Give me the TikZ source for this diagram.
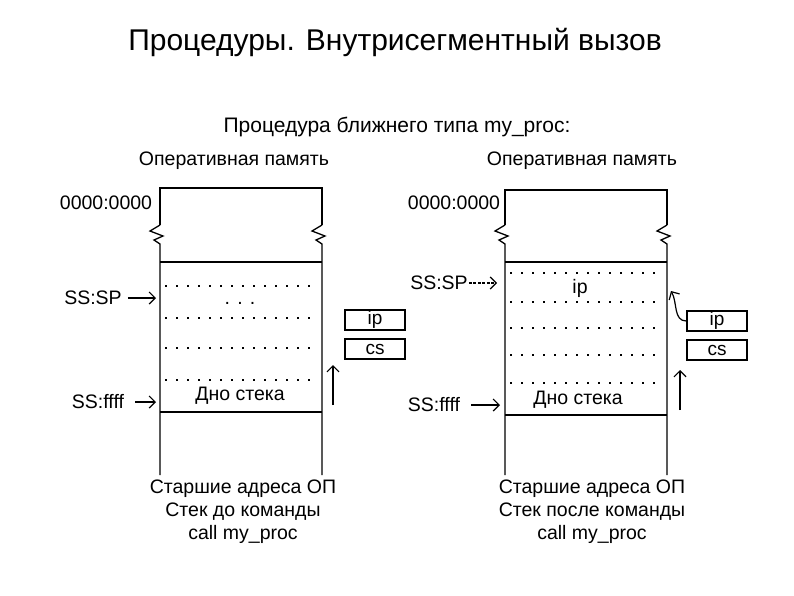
\documentclass[tikz,border=0pt]{standalone}
\usepackage{fontspec}
\setmainfont{Liberation Sans}
\usetikzlibrary{arrows.meta}
\begin{document}
\begin{tikzpicture}[x=1pt,y=-1pt,
  lbl/.style={font=\fontsize{19.5}{23}\selectfont,inner sep=1pt},
  col/.style={line width=1.3pt},
  dots/.style={line width=2pt,dash pattern=on 2pt off 9pt},
  reg/.style={draw,line width=1.3pt,minimum width=60pt,minimum height=20pt,inner sep=0pt,font=\fontsize{19}{19}\selectfont},
  arr/.style={-{Straight Barb[length=6pt]},line width=1.2pt}]
\useasboundingbox (0,0) rectangle (794,595);
\node[font=\fontsize{30}{34}\selectfont] (title) at (395,42) {Процедуры. Внутрисегментный вызов};
\node[font=\fontsize{21}{24}\selectfont] (sub) at (397,127) {Процедура ближнего типа my\_proc:};
% left
\node[lbl] (lmem) at (234,161) {Оперативная память};
\draw[col] (160,225) -- (160,188) -- (322,188) -- (322,225);
\draw[col] (160,225) -- (150,231) -- (163,236) -- (154,240) -- (160,244) -- (160,475);
\draw[col] (322,225) -- (312,231) -- (325,236) -- (316,240) -- (322,244) -- (322,475);
\draw[col] (160,262) -- (322,262);
\draw[col] (160,412) -- (322,412);
\foreach \y in {286,318,348,380} \draw[dots] (165,\y) -- (318,\y);
\node[lbl] (ldots) at (240,303) {. . .};
\node[lbl] (l0) at (106,203) {0000:0000};
\node[lbl] (lsp) at (93,298) {SS:SP};
\coordinate (lspe) at (156,298);
\draw[arr] ([xshift=5pt]lsp.east) -- (lspe);
\node[lbl] (lff) at (98,402) {SS:ffff};
\coordinate (lffe) at (156,402);
\draw[arr] ([xshift=10pt]lff.east) -- (lffe);
\node[lbl] (ldno) at (240,396) {Дно стека};
\node[reg] (lip) at (375,320) {ip};
\node[reg] (lcs) at (375,349) {cs};
\coordinate (lu1) at (333,405); \coordinate (lu2) at (333,365);
\draw[arr] (lu1) -- (lu2);
\node[lbl,align=center] (lbot) at (243,512) {Старшие адреса ОП\\Стек до команды\\call my\_proc};
% right
\node[lbl] (rmem) at (582,161) {Оперативная память};
\draw[col] (505,225) -- (505,190) -- (667,190) -- (667,225);
\draw[col] (505,225) -- (495,231) -- (508,236) -- (499,240) -- (505,244) -- (505,475);
\draw[col] (667,225) -- (657,231) -- (670,236) -- (661,240) -- (667,244) -- (667,475);
\draw[col] (505,262) -- (667,262);
\draw[col] (505,415) -- (667,415);
\foreach \y in {273,302,328,355,383} \draw[dots] (510,\y) -- (663,\y);
\node[lbl] (rip0) at (580,288) {ip};
\node[lbl] (r0) at (454,203) {0000:0000};
\node[lbl] (rsp) at (439,283) {SS:SP};
\coordinate (rspe) at (497,283);
\draw[arr,dash pattern=on 3pt off 1.5pt] (rsp.east) -- (rspe);
\node[lbl] (rff) at (434,405) {SS:ffff};
\coordinate (rffe) at (500,405);
\draw[arr] ([xshift=10pt]rff.east) -- (rffe);
\node[lbl] (rdno) at (578,400) {Дно стека};
\node[reg] (rip) at (717,321) {ip};
\node[reg] (rcs) at (717,350) {cs};
\coordinate (rc) at (671,291);
\draw[arr] (rip.west) to[out=180,in=-60] (rc);
\coordinate (ru1) at (680,410); \coordinate (ru2) at (680,370);
\draw[arr] (ru1) -- (ru2);
\node[lbl,align=center] (rbot) at (592,512) {Старшие адреса ОП\\Стек после команды\\call my\_proc};
\end{tikzpicture}
\end{document}
